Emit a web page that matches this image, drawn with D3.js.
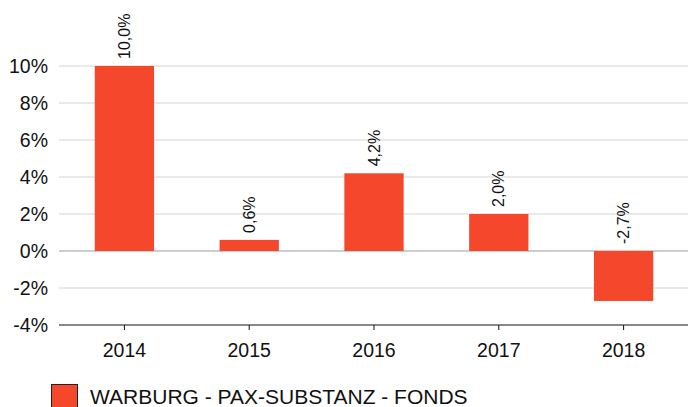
<!DOCTYPE html>
<html>
<head>
<meta charset="utf-8">
<script src="https://cdn.jsdelivr.net/npm/d3@7"></script>
<style>
  html, body { margin: 0; padding: 0; background: #fff; }
  svg { display: block; font-family: "Liberation Sans", Arial, sans-serif; }
</style>
</head>
<body>
<svg id="chart" width="688" height="407"></svg>
<script>
// Annual performance of the fund, in percent
const years = ["2014", "2015", "2016", "2017", "2018"];
const returns = [10.0, 0.6, 4.2, 2.0, -2.7];
const yTicks = [-4, -2, 0, 2, 4, 6, 8, 10];
const seriesName = "WARBURG - PAX-SUBSTANZ - FONDS";

const barColor = "#F4472B";
const svg = d3.select("#chart");

const x = d3.scaleBand().domain(years).range([62, 686]).paddingInner(0.525).paddingOuter(0.2625);
const y = d3.scaleLinear().domain([-4, 10]).range([325, 66]);

const gridLeft = 59, gridRight = 688;

// horizontal grid lines
svg.append("g").selectAll("line")
  .data(yTicks.filter(t => t !== -4))
  .join("line")
  .attr("x1", gridLeft).attr("x2", gridRight)
  .attr("y1", d => y(d)).attr("y2", d => y(d))
  .attr("stroke", d => d === 0 ? "#bcbcbc" : "#d4d4d4")
  .attr("stroke-width", d => d === 0 ? 1.5 : 1);

// y axis labels
svg.append("g").selectAll("text")
  .data(yTicks)
  .join("text")
  .attr("x", 48).attr("y", d => y(d))
  .attr("text-anchor", "end")
  .attr("dominant-baseline", "central")
  .attr("font-size", 19.5)
  .attr("fill", "#111")
  .text(d => d + "%");

// bars
svg.append("g").selectAll("rect")
  .data(years)
  .join("rect")
  .attr("x", d => x(d))
  .attr("width", x.bandwidth())
  .attr("y", (d, i) => y(Math.max(0, returns[i])))
  .attr("height", (d, i) => Math.abs(y(returns[i]) - y(0)))
  .attr("fill", barColor);

// value labels, rotated
svg.append("g").selectAll("text")
  .data(years)
  .join("text")
  .attr("transform", (d, i) => `translate(${x(d) + x.bandwidth() / 2},${y(Math.max(0, returns[i])) - 7}) rotate(-90)`)
  .attr("dominant-baseline", "central")
  .attr("font-size", 16)
  .attr("fill", "#111")
  .text((d, i) => returns[i].toFixed(1).replace(".", ",") + "%");

// bottom axis
const xAxis = svg.append("g");
xAxis.append("line")
  .attr("x1", gridLeft).attr("x2", gridRight)
  .attr("y1", y(-4)).attr("y2", y(-4))
  .attr("stroke", "#111").attr("stroke-width", 1.2);
xAxis.selectAll("line.tick")
  .data(years)
  .join("line")
  .attr("class", "tick")
  .attr("x1", d => x(d) + x.bandwidth() / 2).attr("x2", d => x(d) + x.bandwidth() / 2)
  .attr("y1", y(-4)).attr("y2", y(-4) + 5)
  .attr("stroke", "#111");
xAxis.selectAll("text")
  .data(years)
  .join("text")
  .attr("x", d => x(d) + x.bandwidth() / 2)
  .attr("y", 350)
  .attr("text-anchor", "middle")
  .attr("dominant-baseline", "central")
  .attr("font-size", 19.5)
  .attr("fill", "#111")
  .text(d => d);

// legend
const legend = svg.append("g");
legend.append("rect")
  .attr("x", 51.5).attr("y", 384.5).attr("width", 26).attr("height", 26)
  .attr("fill", barColor).attr("stroke", "#222").attr("stroke-width", 1);
legend.append("text")
  .attr("x", 90).attr("y", 396)
  .attr("dominant-baseline", "central")
  .attr("font-size", 21)
  .attr("fill", "#111")
  .text(seriesName);
</script>
</body>
</html>
